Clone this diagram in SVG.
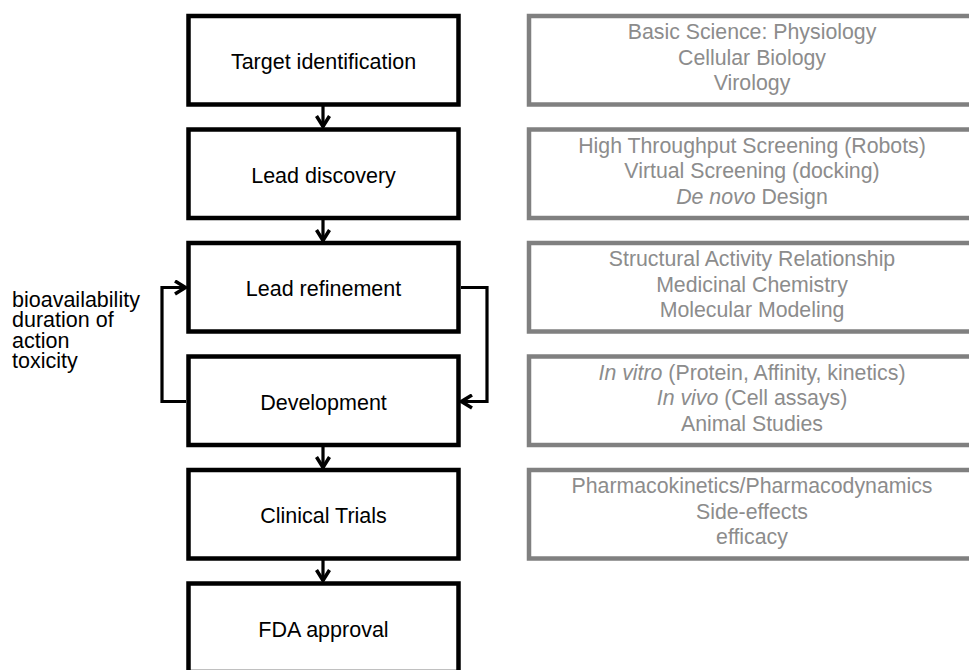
<svg xmlns="http://www.w3.org/2000/svg" width="969" height="670" viewBox="0 0 969 670">
<defs>
<style>
.box{fill:#fff;stroke:#000;stroke-width:4.5}
.gbox{fill:#fff;stroke:#808080;stroke-width:4.5}
.t{font-family:"Liberation Sans",Arial,sans-serif;font-size:21.5px;fill:#000;text-anchor:middle}
.g{font-family:"Liberation Sans",Arial,sans-serif;font-size:21.3px;fill:#8c8c8c;text-anchor:middle}
.l{font-family:"Liberation Sans",Arial,sans-serif;font-size:21.5px;fill:#000}
.c{fill:none;stroke:#000;stroke-width:3.2}
</style>
<marker id="ah" viewBox="0 0 14 16" refX="12.5" refY="8" markerWidth="14" markerHeight="16" markerUnits="userSpaceOnUse" orient="auto">
<path d="M1.5,1.5 L12,8 L1.5,14.5" fill="none" stroke="#000" stroke-width="3.5"/>
</marker>
</defs>
<rect width="969" height="670" fill="#fff"/>
<g id="connectors">
<path class="c" d="M323,106 V127" marker-end="url(#ah)"/>
<path class="c" d="M323,220 V241" marker-end="url(#ah)"/>
<path class="c" d="M323,447 V468" marker-end="url(#ah)"/>
<path class="c" d="M323,560 V581" marker-end="url(#ah)"/>
<path class="c" d="M186,401.5 H162 V287.5 H186" marker-end="url(#ah)"/>
<path class="c" d="M461,287.5 H487 V401.5 H461" marker-end="url(#ah)"/>
</g>
<g id="n1"><rect class="box" x="188.5" y="16" width="270" height="88.5"/><text class="t" x="323.5" y="69">Target identification</text></g>
<g id="n2"><rect class="box" x="188.5" y="129.5" width="270" height="88.5"/><text class="t" x="323.5" y="182.5">Lead discovery</text></g>
<g id="n3"><rect class="box" x="188.5" y="243" width="270" height="88.5"/><text class="t" x="323.5" y="296">Lead refinement</text></g>
<g id="n4"><rect class="box" x="188.5" y="356.5" width="270" height="88.5"/><text class="t" x="323.5" y="409.5">Development</text></g>
<g id="n5"><rect class="box" x="188.5" y="470" width="270" height="88.5"/><text class="t" x="323.5" y="523">Clinical Trials</text></g>
<g id="n6"><rect class="box" x="188.5" y="583.5" width="270" height="88.5"/><text class="t" x="323.5" y="636.5">FDA approval</text></g>
<g id="g1"><rect class="gbox" x="529" y="16" width="460" height="88.5"/>
<text class="g" x="752" y="39">Basic Science: Physiology</text>
<text class="g" x="752" y="64.5">Cellular Biology</text>
<text class="g" x="752" y="90">Virology</text></g>
<g id="g2"><rect class="gbox" x="529" y="129.5" width="460" height="88.5"/>
<text class="g" x="752" y="152.5">High Throughput Screening (Robots)</text>
<text class="g" x="752" y="178">Virtual Screening (docking)</text>
<text class="g" x="752" y="203.5"><tspan font-style="italic">De novo</tspan> Design</text></g>
<g id="g3"><rect class="gbox" x="529" y="243" width="460" height="88.5"/>
<text class="g" x="752" y="266">Structural Activity Relationship</text>
<text class="g" x="752" y="291.5">Medicinal Chemistry</text>
<text class="g" x="752" y="317">Molecular Modeling</text></g>
<g id="g4"><rect class="gbox" x="529" y="356.5" width="460" height="88.5"/>
<text class="g" x="752" y="379.5"><tspan font-style="italic">In vitro</tspan> (Protein, Affinity, kinetics)</text>
<text class="g" x="752" y="405"><tspan font-style="italic">In vivo</tspan> (Cell assays)</text>
<text class="g" x="752" y="430.5">Animal Studies</text></g>
<g id="g5"><rect class="gbox" x="529" y="470" width="460" height="88.5"/>
<text class="g" x="752" y="493">Pharmacokinetics/Pharmacodynamics</text>
<text class="g" x="752" y="518.5">Side-effects</text>
<text class="g" x="752" y="544">efficacy</text></g>
<g id="label">
<text class="l" x="12" y="306.5">bioavailability</text>
<text class="l" x="12" y="327">duration of</text>
<text class="l" x="12" y="347.5">action</text>
<text class="l" x="12" y="368">toxicity</text>
</g>
</svg>
